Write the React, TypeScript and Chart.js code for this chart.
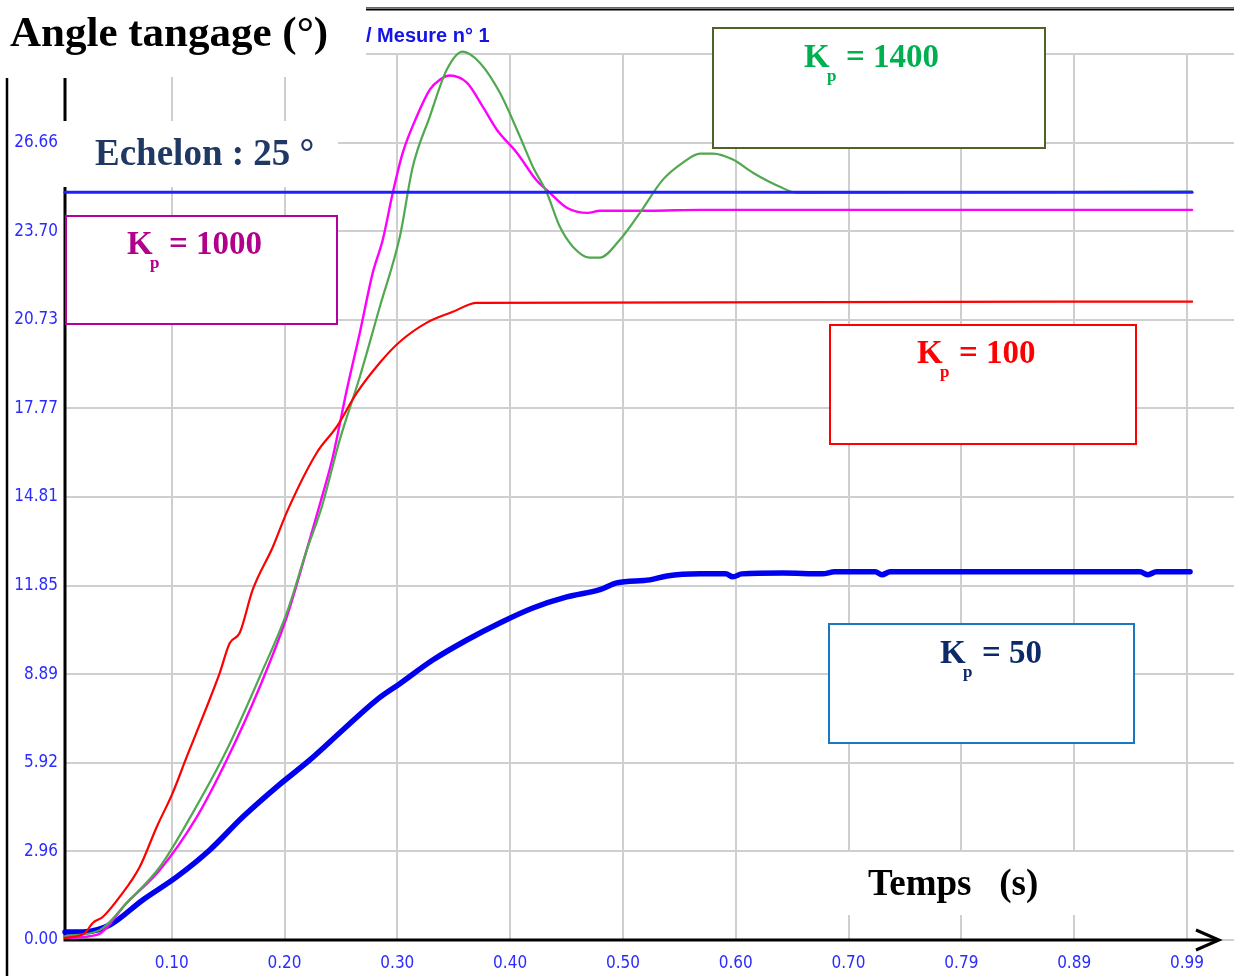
import React, { useEffect, useRef } from "react";
import { Chart, registerables } from "chart.js";

Chart.register(...registerables);

// ---- Axis ticks ----
const xTickValues = [0.0993, 0.1986, 0.2979, 0.3972, 0.4965, 0.5958, 0.6951, 0.7944, 0.8937, 0.993];
const xTickLabels = ["0.10", "0.20", "0.30", "0.40", "0.50", "0.60", "0.70", "0.79", "0.89", "0.99"];
const yTickValues = [0, 2.962, 5.924, 8.886, 11.848, 14.81, 17.772, 20.734, 23.696, 26.658, 29.62];
const yTickLabels = ["0.00", "2.96", "5.92", "8.89", "11.85", "14.81", "17.77", "20.73", "23.70", "26.66", ""];

// ---- Series: Kp = 50 (thick blue) ----
const tKp50 = [0.0054, 0.021, 0.0447, 0.0738, 0.1037, 0.1328, 0.1618, 0.1918, 0.2209, 0.2499, 0.2798, 0.3001, 0.3291, 0.3591, 0.3881, 0.4172, 0.4471, 0.4762, 0.4911, 0.5202, 0.5352, 0.5643, 0.587, 0.5933, 0.601, 0.6373, 0.672, 0.683, 0.7186, 0.7245, 0.7317, 0.9517, 0.9587, 0.966, 0.9957];
const vKp50 = [0.27, 0.27, 0.5, 1.34, 2.11, 3.01, 4.11, 5.12, 6.02, 7.02, 8.03, 8.57, 9.36, 10.03, 10.6, 11.1, 11.47, 11.71, 11.94, 12.04, 12.17, 12.24, 12.24, 12.14, 12.24, 12.27, 12.24, 12.31, 12.31, 12.21, 12.31, 12.31, 12.21, 12.31, 12.31];

// ---- Series: Kp = 100 (red) ----
const tKp100 = [0.0054, 0.0227, 0.0298, 0.0386, 0.0535, 0.0711, 0.0861, 0.1002, 0.1125, 0.1301, 0.1416, 0.1504, 0.1592, 0.1706, 0.1883, 0.2015, 0.227, 0.2446, 0.2622, 0.2825, 0.3001, 0.3239, 0.3467, 0.3679, 0.9975];
const vKp100 = [0.07, 0.23, 0.57, 0.77, 1.44, 2.44, 3.78, 4.92, 6.12, 7.79, 8.93, 9.93, 10.27, 11.71, 13.14, 14.38, 16.29, 17.16, 18.29, 19.3, 20.0, 20.64, 21.0, 21.3, 21.34];

// ---- Series: Kp = 1000 (magenta) ----
const tKp1000 = [0.0054, 0.0333, 0.0597, 0.0888, 0.1213, 0.1477, 0.1768, 0.2006, 0.2182, 0.2296, 0.2411, 0.2534, 0.2649, 0.2763, 0.2851, 0.2939, 0.3027, 0.315, 0.3265, 0.3353, 0.3441, 0.3591, 0.3731, 0.3855, 0.4031, 0.4208, 0.4322, 0.4471, 0.4656, 0.4762, 0.5202, 0.5643, 0.9975];
const vKp1000 = [0.07, 0.17, 1.24, 2.34, 4.11, 6.02, 8.46, 10.8, 13.04, 14.55, 16.15, 18.39, 20.3, 22.31, 23.41, 24.98, 26.32, 27.53, 28.43, 28.76, 28.9, 28.66, 27.86, 27.09, 26.32, 25.38, 24.98, 24.48, 24.31, 24.38, 24.38, 24.41, 24.41];

// ---- Series: Kp = 1400 (green) ----
const tKp1400 = [0.0054, 0.0359, 0.0597, 0.0888, 0.1178, 0.1477, 0.1768, 0.2006, 0.2182, 0.2314, 0.2472, 0.2649, 0.2825, 0.3001, 0.3115, 0.3265, 0.3415, 0.3555, 0.3705, 0.3881, 0.4058, 0.4172, 0.4295, 0.4409, 0.4524, 0.4674, 0.4762, 0.4938, 0.5114, 0.5317, 0.5493, 0.5643, 0.5757, 0.5933, 0.6109, 0.6347, 0.6496, 0.9975];
const vKp1400 = [0.13, 0.33, 1.24, 2.44, 4.25, 6.35, 8.8, 10.94, 13.04, 14.48, 16.72, 18.83, 21.17, 23.51, 25.85, 27.53, 29.1, 29.7, 29.33, 28.33, 26.86, 25.85, 24.98, 23.85, 23.18, 22.81, 22.81, 23.41, 24.31, 25.42, 25.99, 26.29, 26.29, 26.09, 25.65, 25.18, 24.98, 25.02];

// ---- Setpoint (échelon 25°) ----
const tStep = [0.0054, 0.9975];
const vStep = [25, 25];

const kpLabels = ["1400", "1000", "100", "50"];

const SERIF = '"Liberation Serif", "Times New Roman", serif';
const NARROW = '"Liberation Sans Narrow", "DejaVu Sans Condensed", "Liberation Sans", sans-serif';

function pts(t: number[], v: number[]) {
  return t.map((x, i) => ({ x, y: v[i] }));
}

function drawKp(ctx: CanvasRenderingContext2D, x: number, base: number, value: string, color: string) {
  ctx.fillStyle = color;
  ctx.textAlign = "left";
  ctx.textBaseline = "alphabetic";
  ctx.font = `bold 33px ${SERIF}`;
  ctx.fillText("K", x, base);
  ctx.font = `bold 17px ${SERIF}`;
  ctx.fillText("p", x + 23, base + 14);
  ctx.font = `bold 33px ${SERIF}`;
  ctx.fillText("= " + value, x + 42, base);
}

function box(ctx: CanvasRenderingContext2D, x0: number, y0: number, x1: number, y1: number, stroke: string | null) {
  ctx.fillStyle = "#ffffff";
  ctx.fillRect(x0, y0, x1 - x0, y1 - y0);
  if (stroke) {
    ctx.strokeStyle = stroke;
    ctx.lineWidth = 2;
    ctx.strokeRect(x0, y0, x1 - x0, y1 - y0);
  }
}

const overlayPlugin = {
  id: "overlay",
  beforeDatasetsDraw(chart: any) {
    const ctx: CanvasRenderingContext2D = chart.ctx;
    const ca = chart.chartArea;
    ctx.save();
    ctx.lineCap = "butt";
    // axes
    ctx.strokeStyle = "#000";
    ctx.lineWidth = 3;
    ctx.beginPath();
    ctx.moveTo(ca.left, 78);
    ctx.lineTo(ca.left, ca.bottom + 1.5);
    ctx.moveTo(ca.left - 1.5, ca.bottom);
    ctx.lineTo(1218, ca.bottom);
    ctx.stroke();
    ctx.beginPath();
    ctx.moveTo(1196, ca.bottom - 10);
    ctx.lineTo(1219, ca.bottom);
    ctx.lineTo(1196, ca.bottom + 10);
    ctx.stroke();
    // outer left frame line
    ctx.lineWidth = 2.5;
    ctx.beginPath();
    ctx.moveTo(7, 78);
    ctx.lineTo(7, 976);
    ctx.stroke();

    // white areas
    box(ctx, 0, 0, 366, 77, null);
    box(ctx, 366, 0, 1234, 52, null);
    box(ctx, 62, 121, 338, 187, null);
    box(ctx, 775, 852, 1137, 915, null);

    // top double line
    ctx.strokeStyle = "#666";
    ctx.lineWidth = 1;
    ctx.beginPath();
    ctx.moveTo(366, 7.5);
    ctx.lineTo(1234, 7.5);
    ctx.stroke();
    ctx.strokeStyle = "#000";
    ctx.lineWidth = 2;
    ctx.beginPath();
    ctx.moveTo(366, 9.5);
    ctx.lineTo(1234, 9.5);
    ctx.stroke();

    // texts
    ctx.textAlign = "left";
    ctx.textBaseline = "alphabetic";
    ctx.fillStyle = "#000";
    ctx.font = `bold 43px ${SERIF}`;
    ctx.fillText("Angle tangage (°)", 10, 46);

    ctx.fillStyle = "#1414e6";
    ctx.font = 'bold 20px "Liberation Sans", Arial, sans-serif';
    ctx.fillText("/ Mesure n° 1", 366, 42);

    ctx.fillStyle = "#1f3864";
    ctx.font = `bold 37px ${SERIF}`;
    ctx.fillText("Echelon : 25 °", 95, 165);

    ctx.fillStyle = "#000";
    ctx.font = `bold 37px ${SERIF}`;
    ctx.fillText("Temps   (s)", 868, 895);

    // Kp boxes
    box(ctx, 713, 28, 1045, 148, "#4f6228");
    drawKp(ctx, 804, 67, kpLabels[0], "#00b050");
    box(ctx, 66, 216, 337, 324, "#b4009e");
    drawKp(ctx, 127, 254, kpLabels[1], "#b0008c");
    box(ctx, 830, 325, 1136, 444, "#ff0000");
    drawKp(ctx, 917, 363, kpLabels[2], "#ff0000");
    box(ctx, 829, 624, 1134, 743, "#1a78c2");
    drawKp(ctx, 940, 663, kpLabels[3], "#0c2a6a");

    ctx.restore();
  },
};

export default function App() {
  const ref = useRef<HTMLCanvasElement | null>(null);
  useEffect(() => {
    if (!ref.current) return;
    const line = (data: any, color: string, width: number) => ({
      data,
      borderColor: color,
      backgroundColor: color,
      borderWidth: width,
      pointRadius: 0,
      cubicInterpolationMode: "monotone" as const,
      fill: false,
      clip: false as any,
      borderJoinStyle: "round" as const,
      borderCapStyle: "round" as const,
    });
    const chart = new Chart(ref.current, {
      type: "line",
      data: {
        datasets: [
          line(pts(tStep, vStep), "#2020ff", 3),
          line(pts(tKp100, vKp100), "#ff0000", 2.2),
          line(pts(tKp1400, vKp1400), "#50a850", 2.2),
          line(pts(tKp1000, vKp1000), "#ff00ff", 2.4),
          line(pts(tKp50, vKp50), "#0000f0", 5.5),
        ] as any,
      },
      plugins: [overlayPlugin],
      options: {
        responsive: false,
        animation: false,
        devicePixelRatio: 1,
        layout: { padding: { top: 54, left: 0, right: 0, bottom: 0 } },
        plugins: { legend: { display: false }, tooltip: { enabled: false }, title: { display: false } },
        scales: {
          x: {
            type: "linear",
            min: 0.00537,
            max: 1.0344,
            afterBuildTicks: (scale: any) => {
              scale.ticks = xTickValues.map((v) => ({ value: v }));
            },
            afterFit: (scale: any) => {
              scale.height = 36;
            },
            grid: { color: "#cfcfcf", lineWidth: 2, drawTicks: false },
            border: { display: false },
            ticks: {
              autoSkip: false,
              maxRotation: 0,
              padding: 13,
              color: "#2b2bff",
              font: { family: NARROW, size: 17 },
              callback: (_v: any, i: number) => xTickLabels[i],
            },
          },
          y: {
            type: "linear",
            min: 0,
            max: 29.62,
            afterBuildTicks: (scale: any) => {
              scale.ticks = yTickValues.map((v) => ({ value: v }));
            },
            afterFit: (scale: any) => {
              scale.width = 65;
            },
            grid: { color: "#cfcfcf", lineWidth: 2, drawTicks: false },
            border: { display: false },
            ticks: {
              autoSkip: false,
              padding: 7,
              color: "#2b2bff",
              font: { family: NARROW, size: 17 },
              callback: (_v: any, i: number) => yTickLabels[i],
            },
          },
        },
      } as any,
    });
    return () => chart.destroy();
  }, []);
  return (
    <div style={{ position: "absolute", left: 0, top: 0, width: 1234, height: 976, background: "#fff" }}>
      <canvas ref={ref} width={1234} height={976} style={{ display: "block" }} />
    </div>
  );
}
